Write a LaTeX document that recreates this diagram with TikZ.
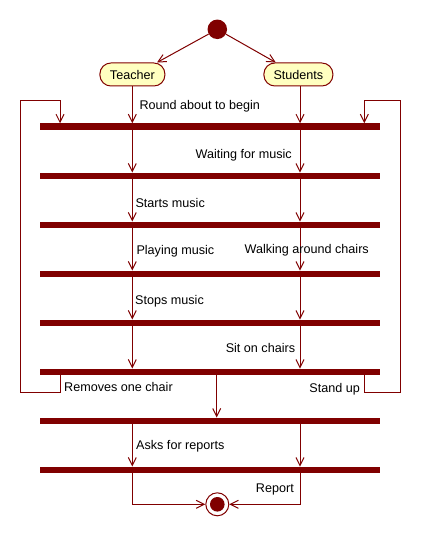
\documentclass[tikz,border=0pt]{standalone}
\usepackage{fontspec}
\setmainfont{Liberation Sans}
\usetikzlibrary{arrows.meta}
\definecolor{umlred}{HTML}{800000}
\definecolor{umlfill}{HTML}{FFFFC0}
\begin{document}
\begin{tikzpicture}[x=1pt,y=-1pt,
  flow/.style={draw=umlred, line width=1pt, -{Straight Barb[length=8pt,width=8pt]}},
  plain/.style={draw=umlred, line width=1pt},
  bar/.style={fill=umlred, draw=none, minimum width=340pt, minimum height=6.5pt, inner sep=0pt},
  state/.style={draw=umlred, fill=umlfill, rounded corners=11pt, minimum height=23pt, inner sep=0pt, line width=1pt, font=\fontsize{12.6pt}{14pt}\selectfont},
  lbl/.style={inner sep=0pt, font=\fontsize{12.6pt}{14pt}\selectfont, text=black}]
\useasboundingbox[fill=white] (0,0) rectangle (421,537);
% columns
\coordinate (tx) at (132.3,0);
\coordinate (sx) at (300,0);
\coordinate (mx) at (216.7,0);
\coordinate (lx) at (60,0);
\coordinate (rx) at (364.3,0);
\coordinate (lo) at (20.7,100.3);
\coordinate (ro) at (400,100.3);
\coordinate (lowy) at (0,392.3);
% nodes
\node[circle, fill=umlred, minimum size=19.5pt, inner sep=0pt] (start) at (217.3,29.3) {};
\node[state, minimum width=65pt] (teacher) at (132.4,74.5) {Teacher};
\node[state, minimum width=69pt] (students) at (298.4,74.5) {Students};
\node[bar] (bar1) at (210,126.7) {};
\node[bar] (bar2) at (210,176) {};
\node[bar] (bar3) at (210,225) {};
\node[bar] (bar4) at (210,274) {};
\node[bar] (bar5) at (210,323) {};
\node[bar] (bar6) at (210,372) {};
\node[bar] (bar7) at (210,421) {};
\node[bar] (bar8) at (210,470) {};
\node[circle, draw=umlred, fill=white, line width=1pt, minimum size=23pt, inner sep=0pt] (end) at (217.3,504.3) {};
\node[circle, fill=umlred, minimum size=14.6pt, inner sep=0pt] (endin) at (end.center) {};
% start arrows
\draw[flow] (start) -- (teacher.26);
\draw[flow] (start) -- (students.152);
% teacher / students into bar1
\draw[flow] (teacher.south -| tx) -- (bar1.north -| tx);
\draw[flow] (students.south -| sx) -- (bar1.north -| sx);
% vertical flows
\foreach \a/\b in {bar1/bar2,bar2/bar3,bar3/bar4,bar4/bar5,bar5/bar6,bar7/bar8}{
  \draw[flow] (\a.south -| tx) -- (\b.north -| tx);
  \draw[flow] (\a.south -| sx) -- (\b.north -| sx);
}
\draw[flow] (bar6.south -| mx) -- (bar7.north -| mx);
% loops
\draw[flow] (bar6.south -| lx) -- (lx |- lowy) -| (lo) -| (bar1.north -| lx);
\draw[flow] (bar6.south -| rx) -- (rx |- lowy) -| (ro) -| (bar1.north -| rx);
% to end
\draw[flow] (bar8.south -| tx) |- (end.west);
\draw[flow] (bar8.south -| sx) |- (end.east);
% labels
\node[lbl, anchor=base west] (l1) at (139.3,110) {Round about to begin};
\node[lbl, anchor=base east] (l2) at (292,158.7) {Waiting for music};
\node[lbl, anchor=base west] (l3) at (135.3,207.3) {Starts music};
\node[lbl, anchor=base west] (l4) at (136.3,254) {Playing music};
\node[lbl, anchor=base] (l5) at (306.7,253.3) {Walking around chairs};
\node[lbl, anchor=base west] (l6) at (135,304) {Stops music};
\node[lbl, anchor=base east] (l7) at (295.3,352.3) {Sit on chairs};
\node[lbl, anchor=base west] (l8) at (64,391.3) {Removes one chair};
\node[lbl, anchor=base east] (l9) at (360,392) {Stand up};
\node[lbl, anchor=base west] (l10) at (136,449.7) {Asks for reports};
\node[lbl, anchor=base east] (l11) at (294,492) {Report};
\end{tikzpicture}
\end{document}
